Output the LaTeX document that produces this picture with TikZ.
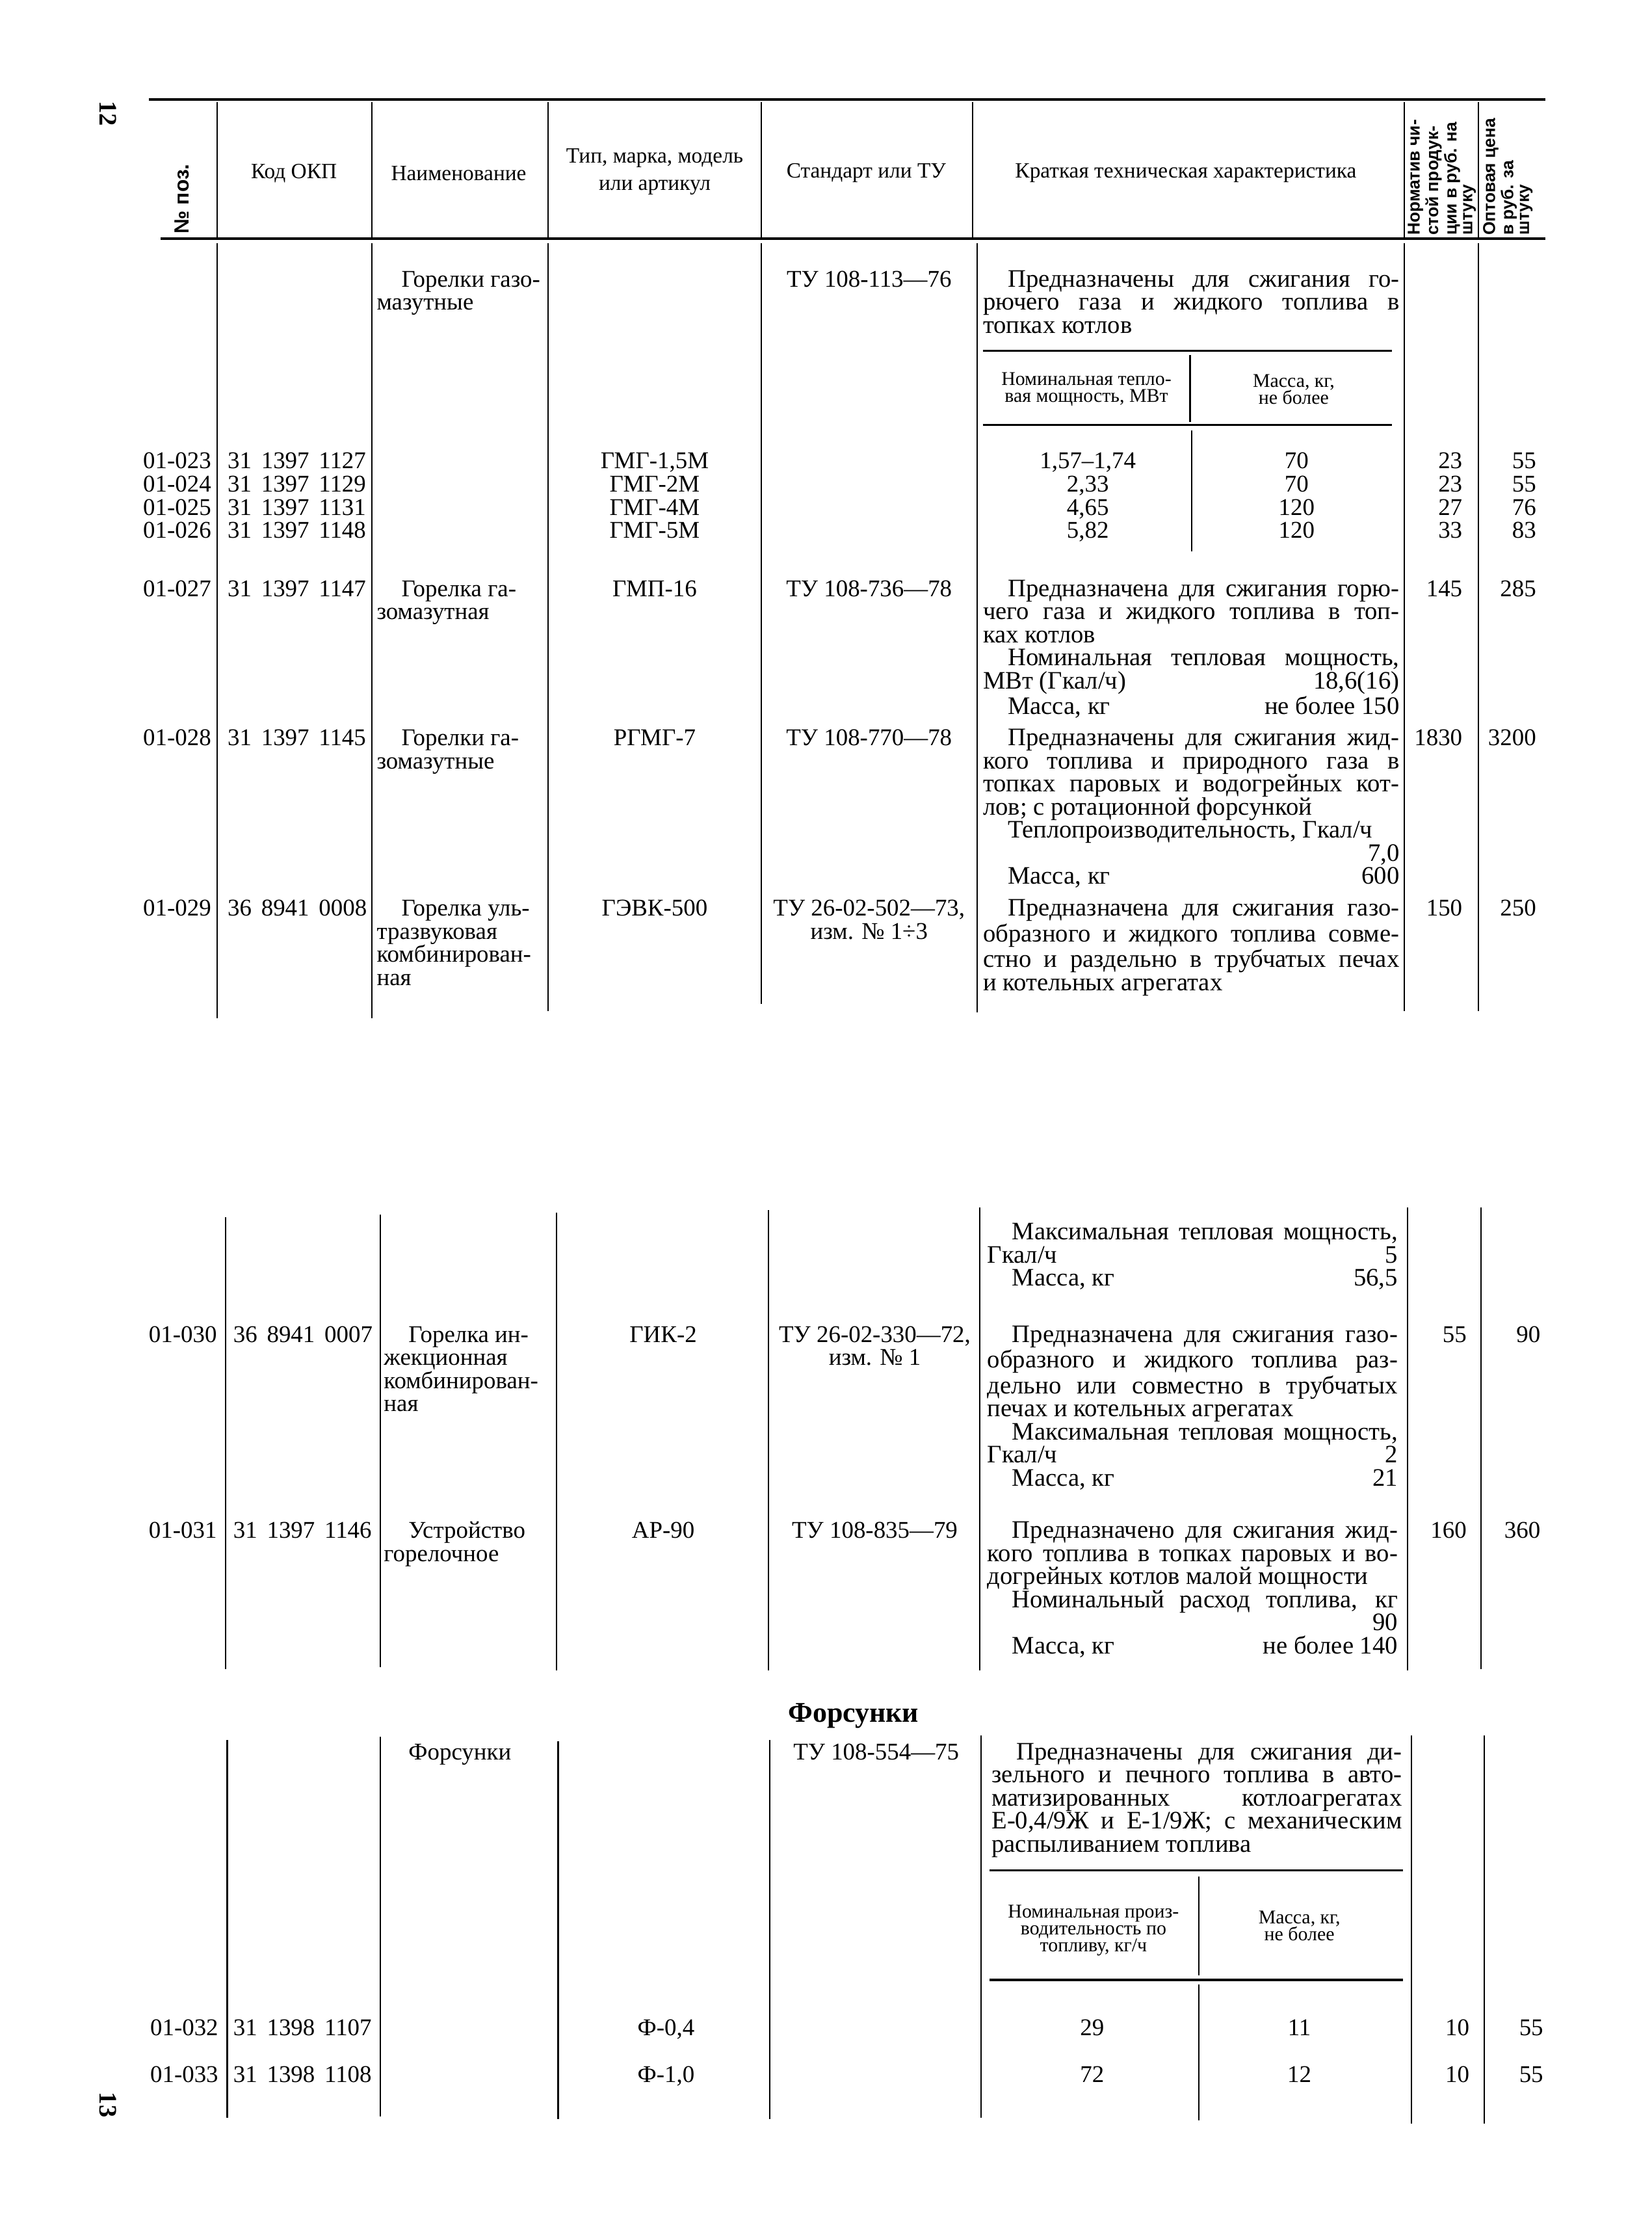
\documentclass[tikz,border=0pt]{standalone}
\usepackage{fontspec}
\setmainfont{Liberation Serif}
\setsansfont{Liberation Sans}
\newcommand\bodyfont{\fontsize{10.5}{10.1}\selectfont}
\newcommand\descfont{\fontsize{11}{10.1}\selectfont}
\newcommand\hdrfont{\fontsize{9.5}{11.8}\selectfont}
\newcommand\subfont{\fontsize{8.5}{7.4}\selectfont}
\newcommand\vhdrfont{\sffamily\bfseries\fontsize{7.5}{6.9}\selectfont}
% one block of lines, first baseline is the node base
\newcommand\textblock[2]{\vtop{\hsize=#1\relax\parindent=0pt\spaceskip=0pt\xspaceskip=0pt\relax #2}}
\newcommand\jline[1]{\hbox to\hsize{#1}}
\newcommand\lline[1]{\hbox to\hsize{#1\hfil}}
\newcommand\cenline[1]{\hbox to\hsize{\hfil#1\hfil}}
\newcommand\indt{\hskip3.8mm\relax}
\newcommand\gap{\hskip0.4em\relax}

\begin{document}
\begin{tikzpicture}[x=0.2184mm, y=-0.2184mm,
  every node/.style={inner sep=0pt, font=\bodyfont},
  txt/.style={anchor=base},
  rnum/.style={anchor=base east},
  lft/.style={anchor=base west},
  descbox/.style={anchor=base west, font=\descfont},
  namecol/.style={anchor=base west},
  stdcol/.style={anchor=base},
  hdr/.style={font=\hdrfont, align=center},
  subhdr/.style={font=\subfont, align=center},
  vhdr/.style={font=\vhdrfont, rotate=90, anchor=north west, align=left},
  hrule/.style={line width=1.3pt},
  srule/.style={line width=0.9pt},
  vrule/.style={line width=0.6pt}]
\fill[white] (0,0) rectangle (1163,1568);
\useasboundingbox (0,0) rectangle (1163,1568);

% page numbers
\node[font=\bfseries\fontsize{11}{11}\selectfont, rotate=-90] (page12) at (76,80) {12};
\node[font=\bfseries\fontsize{11}{11}\selectfont, rotate=-90] (page13) at (76,1482) {13};

% table head
\draw[hrule] (105,70) -- (1088,70);
\draw[hrule] (113,168) -- (1088,168);
\draw[vrule] (153,72) -- (153,167);
\draw[vrule] (262,72) -- (262,167);
\draw[vrule] (386,72) -- (386,167);
\draw[vrule] (536,72) -- (536,167);
\draw[vrule] (685,72) -- (685,167);
\draw[vrule] (989,72) -- (989,167);
\draw[vrule] (1041,72) -- (1041,167);

\node[font=\sffamily\bfseries\fontsize{9}{9}\selectfont, rotate=90] (hpos) at (128,140) {№ поз.};
\node[hdr] (hcode) at (207,122) {Код ОКП};
\node[hdr] (hname) at (323,122) {Наименование};
\node[hdr] (htype) at (461,121) {Тип, марка, модель\\или артикул};
\node[hdr] (hstd) at (610,122) {Стандарт или ТУ};
\node[hdr] (hchar) at (835,122) {Краткая техническая характеристика};
\node[vhdr] (hnorm) at (991,166) {Норматив чи-\\стой продук-\\ции в руб. на\\штуку};
\node[vhdr] (hprice) at (1044,166) {Оптовая цена\\в руб. за\\штуку};

% page 12 body
\draw[vrule] (153,171) -- (153,717);
\draw[vrule] (262,171) -- (262,717);
\draw[vrule] (386,171) -- (386,712);
\draw[vrule] (536,171) -- (536,707);
\draw[vrule] (688,171) -- (688,713);
\draw[vrule] (989,171) -- (989,712);
\draw[vrule] (1041,171) -- (1041,712);

% 01-023 ... 01-026
\node[namecol] (gmgname) at (265,202) {\textblock{26mm}{\lline{\indt Горелки газо-}\lline{мазутные}}};
\node[txt] (gmgstd) at (612,202) {ТУ 108-113—76};
\node[descbox] (gmgdesc) at (692,202) {\textblock{64mm}{%
  \jline{\indt Предназначены для сжигания го-}%
  \jline{рючего газа и жидкого топлива в}%
  \lline{топках котлов}}};
\draw[srule] (692,247) -- (980,247);
\draw[vrule] (838,250) -- (838,297);
\draw[srule] (692,299) -- (980,299);
\draw[vrule] (839,303) -- (839,388);
\node[subhdr] (gmgpowh) at (765,274) {Номинальная тепло-\\вая мощность, МВт};
\node[subhdr] (gmgmassh) at (911,274) {Масса, кг,\\не более};

\node[rnum] (pos23) at (149,330) {01-023};
\node[lft] (code23) at (160,330) {31\gap 1397\gap 1127};
\node[txt] (type23) at (461,330) {ГМГ-1,5М};
\node[txt] (pow23) at (766,330) {1,57–1,74};
\node[txt] (mass23) at (913,330) {70};
\node[rnum] (norm23) at (1030,330) {23};
\node[rnum] (price23) at (1082,330) {55};

\node[rnum] (pos24) at (149,346.3) {01-024};
\node[lft] (code24) at (160,346.3) {31\gap 1397\gap 1129};
\node[txt] (type24) at (461,346.3) {ГМГ-2М};
\node[txt] (pow24) at (766,346.3) {2,33};
\node[txt] (mass24) at (913,346.3) {70};
\node[rnum] (norm24) at (1030,346.3) {23};
\node[rnum] (price24) at (1082,346.3) {55};

\node[rnum] (pos25) at (149,362.6) {01-025};
\node[lft] (code25) at (160,362.6) {31\gap 1397\gap 1131};
\node[txt] (type25) at (461,362.6) {ГМГ-4М};
\node[txt] (pow25) at (766,362.6) {4,65};
\node[txt] (mass25) at (913,362.6) {120};
\node[rnum] (norm25) at (1030,362.6) {27};
\node[rnum] (price25) at (1082,362.6) {76};

\node[rnum] (pos26) at (149,379) {01-026};
\node[lft] (code26) at (160,379) {31\gap 1397\gap 1148};
\node[txt] (type26) at (461,379) {ГМГ-5М};
\node[txt] (pow26) at (766,379) {5,82};
\node[txt] (mass26) at (913,379) {120};
\node[rnum] (norm26) at (1030,379) {33};
\node[rnum] (price26) at (1082,379) {83};

% 01-027
\node[rnum] (pos27) at (149,420) {01-027};
\node[lft] (code27) at (160,420) {31\gap 1397\gap 1147};
\node[namecol] (name27) at (265,420) {\textblock{26mm}{\lline{\indt Горелка га-}\lline{зомазутная}}};
\node[txt] (type27) at (461,420) {ГМП-16};
\node[txt] (std27) at (612,420) {ТУ 108-736—78};
\node[descbox] (desc27) at (692,420) {\textblock{64mm}{%
  \jline{\indt Предназначена для сжигания горю-}%
  \jline{чего газа и жидкого топлива в топ-}%
  \lline{ках котлов}%
  \jline{\indt Номинальная тепловая мощность,}%
  \jline{МВт (Гкал/ч)\hfill 18,6(16)}%
  \jline{\indt Масса, кг\hfill не более 150}}};
\node[rnum] (norm27) at (1030,420) {145};
\node[rnum] (price27) at (1082,420) {285};

% 01-028
\node[rnum] (pos28) at (149,525) {01-028};
\node[lft] (code28) at (160,525) {31\gap 1397\gap 1145};
\node[namecol] (name28) at (265,525) {\textblock{26mm}{\lline{\indt Горелки га-}\lline{зомазутные}}};
\node[txt] (type28) at (461,525) {РГМГ-7};
\node[txt] (std28) at (612,525) {ТУ 108-770—78};
\node[descbox] (desc28) at (692,525) {\textblock{64mm}{%
  \jline{\indt Предназначены для сжигания жид-}%
  \jline{кого топлива и природного газа в}%
  \jline{топках паровых и водогрейных кот-}%
  \lline{лов; с ротационной форсункой}%
  \lline{\indt Теплопроизводительность, Гкал/ч}%
  \jline{\hfill 7,0}%
  \jline{\indt Масса, кг\hfill 600}}};
\node[rnum] (norm28) at (1030,525) {1830};
\node[rnum] (price28) at (1082,525) {3200};

% 01-029
\node[rnum] (pos29) at (149,645) {01-029};
\node[lft] (code29) at (160,645) {36\gap 8941\gap 0008};
\node[namecol] (name29) at (265,645) {\textblock{26mm}{\lline{\indt Горелка уль-}\lline{тразвуковая}\lline{комбинирован-}\lline{ная}}};
\node[txt] (type29) at (461,645) {ГЭВК-500};
\node[stdcol] (std29) at (612,645) {\textblock{32mm}{\cenline{ТУ 26-02-502—73,}\cenline{изм. № 1÷3}}};
\node[descbox] (desc29) at (692,645) {\textblock{64mm}{%
  \jline{\indt Предназначена для сжигания газо-}%
  \jline{образного и жидкого топлива совме-}%
  \jline{стно и раздельно в трубчатых печах}%
  \lline{и котельных агрегатах}}};
\node[rnum] (norm29) at (1030,645) {150};
\node[rnum] (price29) at (1082,645) {250};

% page 13 body
\draw[vrule] (159,857) -- (159,1175);
\draw[vrule] (268,855) -- (268,1174);
\draw[vrule] (392,854) -- (392,1176);
\draw[vrule] (541,852) -- (541,1176);
\draw[vrule] (690,850) -- (690,1176);
\draw[vrule] (991,850) -- (991,1176);
\draw[vrule] (1043,850) -- (1043,1175);

\node[descbox] (desc29b) at (695,873) {\textblock{63.1mm}{%
  \jline{\indt Максимальная тепловая мощность,}%
  \jline{Гкал/ч\hfill 5}%
  \jline{\indt Масса, кг\hfill 56,5}}};

% 01-030
\node[rnum] (pos30) at (153,945) {01-030};
\node[lft] (code30) at (164,945) {36\gap 8941\gap 0007};
\node[namecol] (name30) at (270,945) {\textblock{26mm}{\lline{\indt Горелка ин-}\lline{жекционная}\lline{комбинирован-}\lline{ная}}};
\node[txt] (type30) at (467,945) {ГИК-2};
\node[stdcol] (std30) at (616,945) {\textblock{32mm}{\cenline{ТУ 26-02-330—72,}\cenline{изм. № 1}}};
\node[descbox] (desc30) at (695,945) {\textblock{63.1mm}{%
  \jline{\indt Предназначена для сжигания газо-}%
  \jline{образного и жидкого топлива раз-}%
  \jline{дельно или совместно в трубчатых}%
  \lline{печах и котельных агрегатах}%
  \jline{\indt Максимальная тепловая мощность,}%
  \jline{Гкал/ч\hfill 2}%
  \jline{\indt Масса, кг\hfill 21}}};
\node[rnum] (norm30) at (1033,945) {55};
\node[rnum] (price30) at (1085,945) {90};

% 01-031
\node[rnum] (pos31) at (153,1083) {01-031};
\node[lft] (code31) at (164,1083) {31\gap 1397\gap 1146};
\node[namecol] (name31) at (270,1083) {\textblock{26mm}{\lline{\indt Устройство}\lline{горелочное}}};
\node[txt] (type31) at (467,1083) {АР-90};
\node[txt] (std31) at (616,1083) {ТУ 108-835—79};
\node[descbox] (desc31) at (695,1083) {\textblock{63.1mm}{%
  \jline{\indt Предназначено для сжигания жид-}%
  \jline{кого топлива в топках паровых и во-}%
  \lline{догрейных котлов малой мощности}%
  \jline{\indt Номинальный расход топлива, кг}%
  \jline{\hfill 90}%
  \jline{\indt Масса, кг\hfill не более 140}}};
\node[rnum] (norm31) at (1033,1083) {160};
\node[rnum] (price31) at (1085,1083) {360};

% Форсунки
\node[font=\bfseries\fontsize{12.5}{12.5}\selectfont] (fortitle) at (601,1208) {Форсунки};
\draw[vrule] (160,1225) -- (160,1491);
\draw[vrule] (268,1223) -- (268,1490);
\draw[vrule] (393,1226) -- (393,1492);
\draw[vrule] (542,1225) -- (542,1492);
\draw[vrule] (691,1222) -- (691,1491);
\draw[vrule] (994,1222) -- (994,1495);
\draw[vrule] (1045,1222) -- (1045,1495);

\node[namecol] (forname) at (270,1239) {\textblock{26mm}{\lline{\indt Форсунки}}};
\node[txt] (forstd) at (617,1239) {ТУ 108-554—75};
\node[descbox] (fordesc) at (698,1239) {\textblock{63.1mm}{%
  \jline{\indt Предназначены для сжигания ди-}%
  \jline{зельного и печного топлива в авто-}%
  \jline{матизированных котлоагрегатах}%
  \jline{Е-0,4/9Ж и Е-1/9Ж; с механическим}%
  \lline{распыливанием топлива}}};
\draw[srule] (697,1317) -- (988,1317);
\draw[vrule] (844,1321) -- (844,1391);
\draw[srule] (697,1394) -- (988,1394);
\draw[vrule] (844,1397) -- (844,1493);
\node[subhdr] (forpowh) at (770,1359) {Номинальная произ-\\водительность по\\топливу, кг/ч};
\node[subhdr] (formassh) at (915,1356) {Масса, кг,\\не более};

\node[rnum] (pos32) at (154,1433) {01-032};
\node[lft] (code32) at (164,1433) {31\gap 1398\gap 1107};
\node[txt] (type32) at (469,1433) {Ф-0,4};
\node[txt] (pow32) at (769,1433) {29};
\node[txt] (mass32) at (915,1433) {11};
\node[rnum] (norm32) at (1035,1433) {10};
\node[rnum] (price32) at (1087,1433) {55};

\node[rnum] (pos33) at (154,1466) {01-033};
\node[lft] (code33) at (164,1466) {31\gap 1398\gap 1108};
\node[txt] (type33) at (469,1466) {Ф-1,0};
\node[txt] (pow33) at (769,1466) {72};
\node[txt] (mass33) at (915,1466) {12};
\node[rnum] (norm33) at (1035,1466) {10};
\node[rnum] (price33) at (1087,1466) {55};
\end{tikzpicture}
\end{document}
